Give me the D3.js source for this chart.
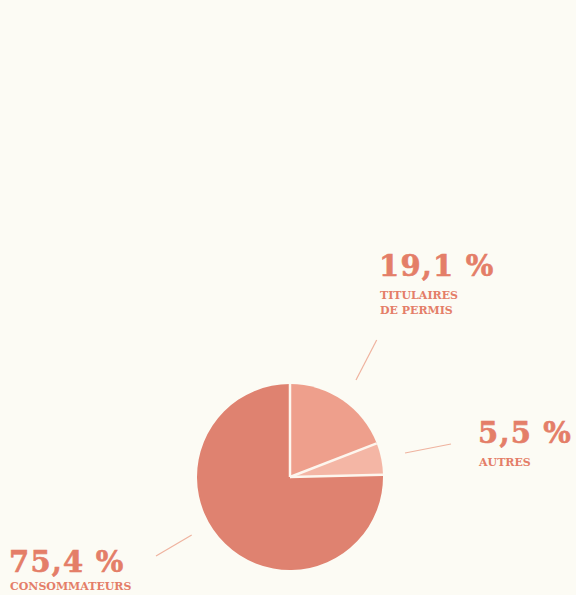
<!DOCTYPE html>
<html><head><meta charset="utf-8">
<script src="https://cdn.jsdelivr.net/npm/d3@7"></script>
<style>
html,body{margin:0;padding:0;background:#fcfbf4;}
svg{display:block;}
</style></head>
<body>
<svg id="chart" width="576" height="595"></svg>
<script>
const categories = ["TITULAIRES DE PERMIS", "AUTRES", "CONSOMMATEURS"];
const values = [19.1, 5.5, 75.4];
const valueLabels = ["19,1 %", "5,5 %", "75,4 %"];
const labelLines = [["TITULAIRES", "DE PERMIS"], ["AUTRES"], ["CONSOMMATEURS"]];
const colors = ["#ee9f8c", "#f4b6a5", "#df8270"];

const svg = d3.select("#chart");
const cx = 290, cy = 477, r = 93;

const pie = d3.pie().sort(null).value(d => d);
const arcs = pie(values);
const arc = d3.arc().innerRadius(0).outerRadius(r);

const g = svg.append("g").attr("transform", `translate(${cx},${cy})`);
g.selectAll("path").data(arcs).join("path")
  .attr("d", arc)
  .attr("fill", (d, i) => colors[i]);

// white radial separators at slice boundaries
g.selectAll("line.sep").data(arcs).join("line")
  .attr("class", "sep")
  .attr("x1", 0).attr("y1", 0)
  .attr("x2", d => Math.sin(d.startAngle) * r)
  .attr("y2", d => -Math.cos(d.startAngle) * r)
  .attr("stroke", "#fdf6ee")
  .attr("stroke-width", 2.5);

// label layout (positions only)
const labelPos = [
  {x: 379, y: 276, line: [[376.7, 340], [356, 380]]},
  {x: 478, y: 443, line: [[451, 444], [405, 453]]},
  {x: 9, y: 572, line: [[191.7, 535], [156, 556]]}
];
const textColor = "#e47e68";

labelPos.forEach((p, i) => {
  svg.append("line")
    .attr("x1", p.line[0][0]).attr("y1", p.line[0][1])
    .attr("x2", p.line[1][0]).attr("y2", p.line[1][1])
    .attr("stroke", "#efb39f").attr("stroke-width", 1.2);
  svg.append("text")
    .attr("x", p.x).attr("y", p.y)
    .attr("font-family", "'DejaVu Serif', serif")
    .attr("font-weight", "bold")
    .attr("font-size", 29)
    .attr("letter-spacing", 1.2)
    .attr("fill", textColor)
    .attr("stroke", textColor)
    .attr("stroke-width", 0.6)
    .text(valueLabels[i]);
  labelLines[i].forEach((t, j) => {
    svg.append("text")
      .attr("x", p.x + 1).attr("y", p.y + (i === 2 ? 18 : 23) + j * 15)
      .attr("font-family", "'DejaVu Serif', serif")
      .attr("font-weight", "bold")
      .attr("font-size", 11)
      .attr("fill", textColor)
      .text(t);
  });
});
</script>
</body></html>
